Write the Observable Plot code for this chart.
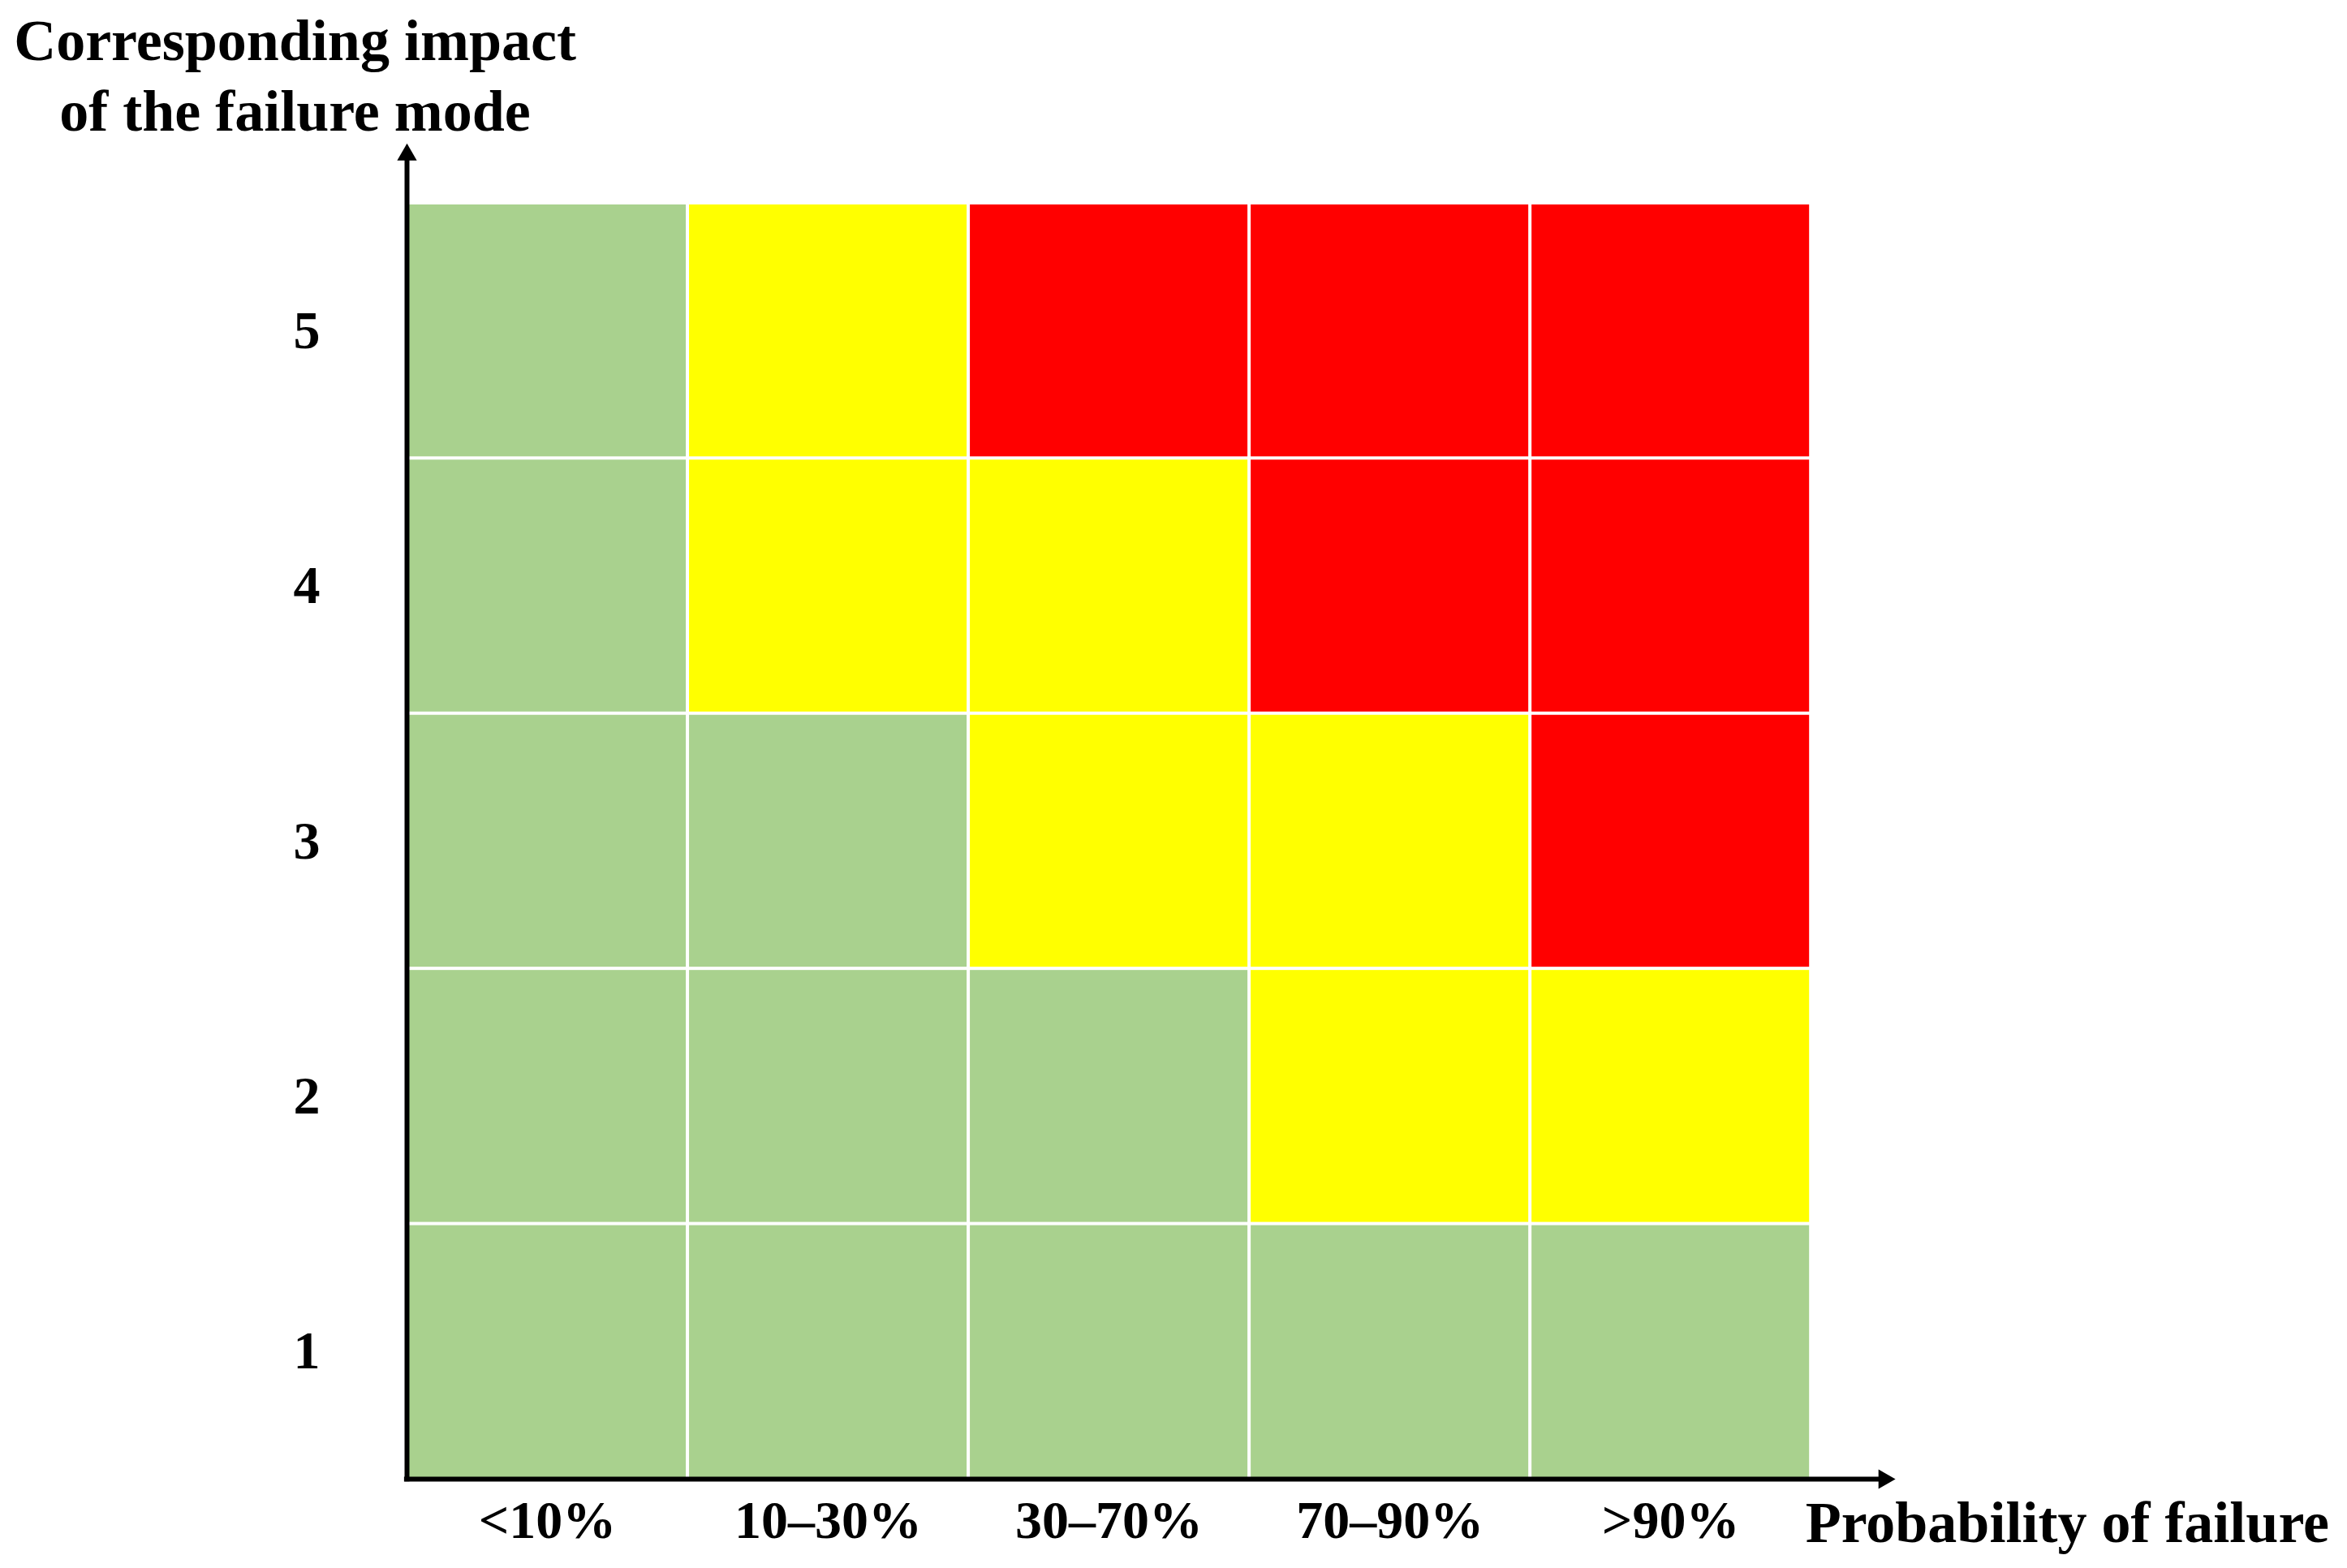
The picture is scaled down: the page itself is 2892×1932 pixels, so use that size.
<!DOCTYPE html>
<html>
<head>
<meta charset="utf-8">
<script src="https://cdn.jsdelivr.net/npm/d3@7"></script>
<script src="https://cdn.jsdelivr.net/npm/@observablehq/plot@0.6"></script>
<style>
  html, body { margin: 0; padding: 0; background: #fff; }
</style>
</head>
<body>
<div id="chart"></div>
<script>
// ---- data ----
const probabilities = ["<10%", "10–30%", "30–70%", "70–90%", ">90%"];
const impacts = [1, 2, 3, 4, 5];
const riskLevels = ["low", "medium", "high"];
const riskColors = ["#A9D18E", "#FFFF00", "#FF0000"];
// risk level for each impact row, across the probability columns
const riskImpact1 = ["low", "low", "low", "low", "low"];
const riskImpact2 = ["low", "low", "low", "medium", "medium"];
const riskImpact3 = ["low", "low", "medium", "medium", "high"];
const riskImpact4 = ["low", "medium", "medium", "high", "high"];
const riskImpact5 = ["low", "medium", "high", "high", "high"];
const xAxisTitle = "Probability of failure";
const yAxisTitle = "Corresponding impact\nof the failure mode";

// ---- build table ----
const riskRows = [riskImpact1, riskImpact2, riskImpact3, riskImpact4, riskImpact5];
const cells = impacts.flatMap((impact, r) =>
  probabilities.map((p, c) => ({ probability: p, col: c, impact, risk: riskRows[r][c] }))
);

const xMax = 5.3, yMax = 5.235;
const font = "'Liberation Serif', 'Times New Roman', serif";

const chart = Plot.plot({
  width: 2892,
  height: 1932,
  marginLeft: 501,
  marginRight: 557,
  marginTop: 176,
  marginBottom: 110,
  style: { fontFamily: font, fontWeight: "bold", fontSize: "66px", background: "#fff", color: "#000" },
  x: {
    domain: [0, xMax],
    ticks: probabilities.map((_, i) => i + 0.5),
    tickFormat: d => probabilities[Math.floor(d)],
    tickSize: 0,
    tickPadding: 26,
    label: null
  },
  y: {
    domain: [0, yMax],
    ticks: impacts.map((_, i) => i + 0.5),
    tickFormat: d => impacts[Math.floor(d)],
    tickSize: 0,
    tickPadding: 107,
    label: null
  },
  color: { type: "ordinal", domain: riskLevels, range: riskColors },
  marks: [
    Plot.rect(cells, {
      x1: d => d.col, x2: d => d.col + 1,
      y1: d => d.impact - 1, y2: d => d.impact,
      fill: "risk", inset: 2
    }),
    Plot.ruleX([0], { y1: -0.01, y2: yMax - 0.045, stroke: "#000", strokeWidth: 6 }),
    Plot.ruleY([0], { x1: -0.009, x2: xMax - 0.04, stroke: "#000", strokeWidth: 6 }),
    Plot.dot([{ x: 0, y: yMax - 0.045 }], { x: "x", y: "y", symbol: "triangle", r: 9, fill: "#000" }),
    Plot.dot([{ x: xMax - 0.04, y: 0 }], { x: "x", y: "y", symbol: "triangle", r: 9, fill: "#000", rotate: 90 }),
    Plot.text([xAxisTitle], { x: () => probabilities.length, y: () => 0, text: d => d, textAnchor: "start", dx: -7, dy: 54, lineAnchor: "middle", fontSize: 72, fill: "#000" }),
    Plot.text([yAxisTitle], { frameAnchor: "top-left", text: d => d, textAnchor: "middle", lineAnchor: "top", lineHeight: 1.21, dx: -138, dy: -164, fontSize: 72, fill: "#000" })
  ]
});
document.getElementById("chart").appendChild(chart);
</script>
</body>
</html>
